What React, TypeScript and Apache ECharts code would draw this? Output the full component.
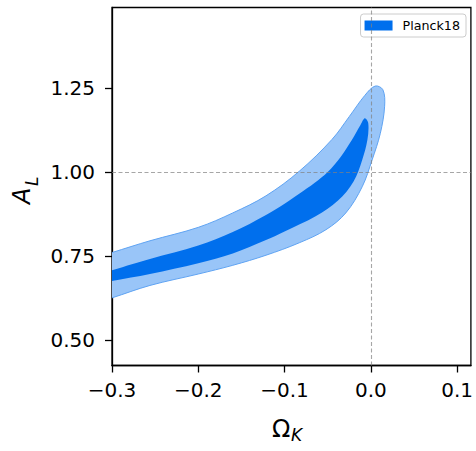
import React, { useEffect, useRef } from "react";
import * as echarts from "echarts";

// Ω_K values (x) and A_L values (y) of the two credible-region contours
const outerContour: number[][] = [
  [-0.31, 0.752], [-0.3, 0.76], [-0.256, 0.795], [-0.2, 0.835], [-0.16, 0.878],
  [-0.1215, 0.929], [-0.083, 1.002], [-0.045, 1.097], [-0.025, 1.165], [-0.007, 1.228],
  [0.005, 1.256], [0.014, 1.245], [0.016, 1.196], [0.011, 1.115], [0.0015, 1.036],
  [-0.01, 0.956], [-0.029, 0.878], [-0.052, 0.828], [-0.083, 0.789], [-0.1215, 0.752],
  [-0.16, 0.722], [-0.2, 0.696], [-0.256, 0.662], [-0.3, 0.625], [-0.31, 0.618],
];
const innerContour: number[][] = [
  [-0.31, 0.700], [-0.3, 0.707], [-0.276, 0.726], [-0.256, 0.741], [-0.2, 0.781],
  [-0.16, 0.821], [-0.1215, 0.872], [-0.1, 0.905], [-0.083, 0.935], [-0.065, 0.968],
  [-0.05, 1.0], [-0.035, 1.045], [-0.022, 1.095], [-0.012, 1.14], [-0.007, 1.16],
  [-0.003, 1.146], [-0.004, 1.095], [-0.01, 1.036], [-0.02, 0.972], [-0.038, 0.915],
  [-0.064, 0.868], [-0.1, 0.823], [-0.1215, 0.797], [-0.16, 0.757], [-0.2, 0.728],
  [-0.256, 0.696], [-0.3, 0.675], [-0.31, 0.670],
];
const xTicks = [-0.3, -0.2, -0.1, 0.0, 0.1];
const yTicks = [0.5, 0.75, 1.0, 1.25];
const xRange = [-0.3, 0.116];
const yRange = [0.4235, 1.49];
const refX = 0;
const refY = 1;
const legendName = "Planck18";

const FONT = "DejaVu Sans";

function polyRenderer(pts: number[][], fill: string, stroke: string | null) {
  return (params: any, api: any) => {
    if (params.dataIndex !== 0) return null;
    const points = pts.map((p) => api.coord(p));
    return {
      type: "polygon",
      shape: { points, smooth: 0.35 },
      style: { fill, stroke: stroke || "none", lineWidth: stroke ? 1 : 0 },
    };
  };
}

export default function App() {
  const ref = useRef<HTMLDivElement>(null);
  useEffect(() => {
    if (!ref.current) return;
    const chart = echarts.init(ref.current, null, { renderer: "svg" });
    chart.setOption({
      animation: false,
      backgroundColor: "#ffffff",
      grid: {
        left: 112,
        top: 7.5,
        right: 3.5,
        bottom: 85.5,
        show: true,
        borderColor: "#000",
        borderWidth: 1.3,
        backgroundColor: "transparent",
      },
      legend: {
        right: 10,
        top: 14,
        itemWidth: 28,
        itemHeight: 10,
        padding: [5, 6, 5, 4],
        backgroundColor: "#fff",
        borderColor: "#cccccc",
        borderWidth: 1,
        borderRadius: 3,
        textStyle: { fontFamily: FONT, fontSize: 12.7, color: "#000", padding: [0, 0, 0, 5], lineHeight: 13 },
        data: [{ name: legendName, icon: "rect", itemStyle: { color: "#006FED" } }],
      },
      xAxis: {
        type: "value",
        min: xRange[0],
        max: xRange[1],
        axisLine: { show: true, onZero: false, lineStyle: { color: "#000", width: 1.3 } },
        axisTick: { show: true, length: 7, customValues: xTicks, lineStyle: { color: "#000", width: 1.3 } },
        axisLabel: {
          customValues: xTicks,
          margin: 14,
          fontFamily: FONT,
          fontSize: 20,
          color: "#000",
          formatter: (v: number) => v.toFixed(1).replace("-", "\u2212"),
        },
        splitLine: { show: false },
      },
      yAxis: {
        type: "value",
        min: yRange[0],
        max: yRange[1],
        axisLine: { show: true, onZero: false, lineStyle: { color: "#000", width: 1.3 } },
        axisTick: { show: true, length: 7, customValues: yTicks, lineStyle: { color: "#000", width: 1.3 } },
        axisLabel: {
          customValues: yTicks,
          margin: 17,
          fontFamily: FONT,
          fontSize: 20,
          color: "#000",
          formatter: (v: number) => v.toFixed(2),
        },
        splitLine: { show: false },
      },
      series: [
        {
          type: "custom",
          name: "outer",
          clip: true,
          z: 2,
          data: outerContour,
          itemStyle: { color: "#99C5F8" },
          renderItem: polyRenderer(outerContour, "#99C5F8", "#5FA3F2"),
        },
        {
          type: "custom",
          name: legendName,
          clip: true,
          z: 3,
          data: innerContour,
          itemStyle: { color: "#006FED" },
          renderItem: polyRenderer(innerContour, "#006FED", null),
        },
        {
          type: "line",
          name: "ref",
          data: [],
          z: 5,
          markLine: {
            silent: true,
            symbol: "none",
            label: { show: false },
            lineStyle: { type: [4, 2.5], color: "rgba(128,128,128,0.7)", width: 1.1 },
            data: [{ xAxis: refX }, { yAxis: refY }],
          },
        },
      ],
      graphic: [
        {
          type: "text",
          x: 272,
          y: 428.5,
          style: { text: "Ω", fontFamily: FONT, fontSize: 24, fill: "#000", align: "left", verticalAlign: "middle" },
        },
        {
          type: "text",
          x: 291,
          y: 435,
          style: { text: "K", fontFamily: FONT, fontStyle: "italic", fontSize: 17, fill: "#000", align: "left", verticalAlign: "middle" },
        },
        {
          type: "text",
          x: 21.5,
          y: 204,
          rotation: Math.PI / 2,
          style: { text: "A", fontFamily: FONT, fontStyle: "italic", fontSize: 24, fill: "#000", align: "left", verticalAlign: "middle" },
        },
        {
          type: "text",
          x: 31.5,
          y: 186,
          rotation: Math.PI / 2,
          style: { text: "L", fontFamily: FONT, fontStyle: "italic", fontSize: 17, fill: "#000", align: "left", verticalAlign: "middle" },
        },
      ],
    });
    return () => chart.dispose();
  }, []);
  return <div ref={ref} style={{ width: 476, height: 451, position: "absolute", left: 0, top: 0 }} />;
}
